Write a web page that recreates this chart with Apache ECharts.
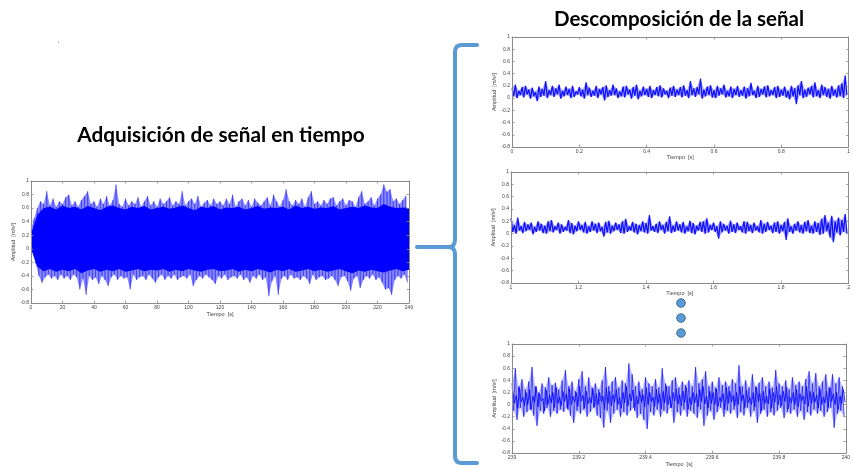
<!DOCTYPE html>
<html>
<head>
<meta charset="utf-8">
<script src="https://cdn.jsdelivr.net/npm/echarts@6/dist/echarts.min.js"></script>
<style>
  html, body { margin: 0; padding: 0; background: #ffffff; }
  #chart { width: 853px; height: 468px; }
</style>
</head>
<body>
<div id="chart"></div>
<script>
// ---- Full record: 0–240 s, local maxima every 2 s and minima in between ----
const mainStart = 0, mainStep = 2;
const mainPeaks = [
  0.28,0.45,0.60,0.70,0.66,0.85,0.64,0.74,0.62,0.70,0.66,0.76,0.80,0.64,0.70,0.62,0.72,0.78,0.85,0.66,
  0.70,0.62,0.74,0.66,0.78,0.64,0.72,0.95,0.66,0.62,0.74,0.64,0.70,0.66,0.76,0.62,0.70,0.78,0.64,0.70,
  0.62,0.74,0.66,0.70,0.76,0.64,0.70,0.66,0.85,0.64,0.70,0.74,0.66,0.78,0.62,0.68,0.72,0.64,0.74,0.66,
  0.70,0.64,0.74,0.66,0.80,0.62,0.70,0.74,0.64,0.72,0.62,0.74,0.68,0.64,0.70,0.76,0.64,0.80,0.70,0.62,
  0.72,0.88,0.70,0.64,0.72,0.66,0.74,0.62,0.76,0.85,0.66,0.70,0.64,0.72,0.66,0.74,0.76,0.64,0.70,0.74,
  0.64,0.72,0.70,0.62,0.76,0.85,0.66,0.70,0.76,0.64,0.74,0.80,0.95,0.84,0.88,0.70,0.74,0.66,0.72,0.78
];
const mainTroughs = [
  -0.05,-0.22,-0.40,-0.50,-0.42,-0.38,-0.44,-0.40,-0.46,-0.38,-0.44,-0.40,-0.46,-0.38,-0.42,-0.60,-0.44,-0.68,-0.40,-0.46,
  -0.42,-0.52,-0.40,-0.46,-0.55,-0.42,-0.38,-0.46,-0.40,-0.44,-0.42,-0.60,-0.38,-0.46,-0.42,-0.40,-0.46,-0.38,-0.44,-0.50,
  -0.42,-0.38,-0.46,-0.40,-0.44,-0.38,-0.46,-0.42,-0.40,-0.44,-0.38,-0.55,-0.46,-0.40,-0.44,-0.38,-0.42,-0.46,-0.52,-0.40,
  -0.44,-0.38,-0.46,-0.42,-0.40,-0.44,-0.38,-0.46,-0.42,-0.50,-0.40,-0.44,-0.38,-0.46,-0.42,-0.70,-0.48,-0.40,-0.68,-0.44,
  -0.40,-0.46,-0.38,-0.44,-0.42,-0.46,-0.40,-0.44,-0.52,-0.38,-0.46,-0.42,-0.40,-0.46,-0.44,-0.40,-0.46,-0.55,-0.42,-0.40,
  -0.48,-0.62,-0.44,-0.40,-0.58,-0.46,-0.40,-0.44,-0.38,-0.46,-0.42,-0.50,-0.60,-0.58,-0.68,-0.46,-0.40,-0.44,-0.38,-0.50
];
// solid body of the record, upper and lower edge every 4 s
const mainCoreStart = 0, mainCoreStep = 4;
const mainCoreHigh = [
  0.22,0.50,0.60,0.62,0.58,0.64,0.60,0.62,0.58,0.63,0.60,0.57,0.62,0.64,0.60,0.58,0.62,0.60,0.63,0.58,
  0.60,0.62,0.59,0.61,0.64,0.60,0.57,0.62,0.60,0.63,0.58,0.61,0.60,0.62,0.58,0.60,0.63,0.59,0.61,0.60,
  0.62,0.58,0.64,0.60,0.62,0.59,0.61,0.60,0.63,0.58,0.60,0.62,0.60,0.64,0.61,0.60,0.66,0.62,0.60,0.61,0.60
];
const mainCoreLow = [
  0.00,-0.26,-0.33,-0.30,-0.34,-0.31,-0.33,-0.30,-0.36,-0.32,-0.30,-0.34,-0.31,-0.33,-0.30,-0.34,-0.32,-0.30,-0.33,-0.31,
  -0.32,-0.30,-0.34,-0.31,-0.33,-0.30,-0.32,-0.34,-0.31,-0.30,-0.33,-0.32,-0.30,-0.34,-0.31,-0.33,-0.30,-0.32,-0.35,-0.31,
  -0.33,-0.30,-0.34,-0.32,-0.30,-0.33,-0.31,-0.34,-0.32,-0.30,-0.33,-0.36,-0.32,-0.34,-0.31,-0.33,-0.35,-0.32,-0.30,-0.33,-0.31
];

// ---- Window 0–1 s ----
const win1Start = 0, winStep = 0.01;
const win1Peaks = [
  0.16,0.22,0.12,0.18,0.20,0.14,0.17,0.10,0.19,0.15, 0.28,0.13,0.20,0.16,0.22,0.12,0.19,0.15,0.20,0.11,
  0.18,0.14,0.26,0.17,0.12,0.20,0.15,0.18,0.21,0.13, 0.22,0.16,0.11,0.19,0.20,0.14,0.18,0.22,0.12,0.19,
  0.15,0.20,0.13,0.18,0.21,0.16,0.12,0.17,0.20,0.14, 0.18,0.21,0.13,0.28,0.16,0.18,0.32,0.14,0.19,0.21,
  0.13,0.20,0.16,0.22,0.12,0.19,0.15,0.20,0.13,0.19, 0.16,0.25,0.12,0.20,0.15,0.19,0.21,0.13,0.18,0.20,
  0.14,0.19,0.12,0.20,0.16,0.21,0.28,0.14,0.17,0.20, 0.26,0.13,0.22,0.18,0.15,0.20,0.14,0.21,0.24,0.37
];
const win1Troughs = [
  0.03,0.00,0.05,0.01,0.06,-0.01,0.03,-0.05,0.02,0.04, 0.00,0.05,0.02,0.06,-0.01,0.03,0.05,0.00,0.02,0.06,
  0.03,-0.01,0.05,0.02,0.04,0.00,0.06,-0.04,0.02,0.04, 0.05,0.00,0.03,0.01,0.06,-0.01,0.04,-0.02,0.03,0.05,
  0.02,0.00,0.05,0.03,0.01,0.06,0.00,0.04,0.02,0.05, 0.01,0.04,0.00,0.05,0.02,0.06,-0.01,0.03,0.05,0.01,
  0.00,0.04,0.06,0.01,0.03,0.00,0.05,0.02,0.04,-0.01, 0.03,0.05,0.00,0.02,0.06,0.01,0.03,0.05,0.00,0.02,
  0.04,0.01,-0.02,0.03,-0.10,0.05,0.00,0.02,0.06,0.01, 0.03,0.00,0.05,0.02,-0.01,0.04,0.01,0.03,0.00,0.05
];

// ---- Window 1–2 s ----
const win2Start = 1;
const win2Peaks = [
  0.25,0.14,0.26,0.12,0.19,0.15,0.18,0.11,0.20,0.16, 0.13,0.20,0.22,0.12,0.18,0.15,0.11,0.22,0.17,0.13,
  0.20,0.14,0.19,0.12,0.20,0.16,0.18,0.11,0.19,0.21, 0.13,0.18,0.15,0.20,0.24,0.12,0.19,0.16,0.14,0.20,
  0.17,0.30,0.12,0.16,0.20,0.14,0.19,0.28,0.13,0.20, 0.15,0.19,0.12,0.21,0.17,0.13,0.19,0.20,0.25,0.14,
  0.18,0.12,0.20,0.16,0.13,0.21,0.15,0.18,0.12,0.20, 0.19,0.14,0.18,0.12,0.22,0.16,0.19,0.13,0.18,0.20,
  0.14,0.19,0.25,0.12,0.16,0.20,0.14,0.19,0.22,0.13, 0.20,0.17,0.24,0.30,0.18,0.29,0.20,0.26,0.22,0.32
];
const win2Troughs = [
  0.03,0.00,0.05,0.01,0.04,0.06,-0.01,0.03,0.05,0.01, 0.00,0.04,0.02,0.06,0.00,0.03,0.05,0.01,-0.01,0.04,
  0.06,0.02,0.00,0.03,0.05,0.01,0.04,-0.05,0.02,0.00, 0.04,0.06,0.01,0.00,0.03,0.05,0.02,-0.01,0.04,0.02,
  0.00,0.05,0.03,0.01,0.06,0.00,0.04,0.01,0.03,0.05, 0.02,0.00,0.04,0.01,-0.01,0.05,0.03,0.00,0.02,0.06,
  0.03,-0.08,0.02,0.05,0.00,0.03,0.01,0.06,0.02,0.00, 0.04,0.01,0.05,0.02,0.00,0.03,0.06,0.01,0.03,0.00,
  0.04,-0.10,0.03,0.00,0.05,0.02,0.00,0.04,0.01,0.00, 0.03,-0.02,0.00,0.04,-0.06,-0.14,0.02,-0.03,0.03,0.00
];

// ---- Window 239–240 s: large swings plus the smaller ripple riding between them ----
const win3Start = 239;
const win3Peaks = [
  0.35,0.60,0.30,0.42,0.25,0.38,0.62,0.30,0.20,0.35, 0.28,0.45,0.32,0.36,0.25,0.40,0.57,0.30,0.38,0.22,
  0.42,0.55,0.30,0.45,0.28,0.35,0.25,0.40,0.62,0.30, 0.38,0.45,0.28,0.40,0.35,0.68,0.50,0.30,0.38,0.25,
  0.45,0.35,0.30,0.42,0.28,0.60,0.35,0.30,0.40,0.45, 0.28,0.38,0.32,0.40,0.30,0.62,0.35,0.42,0.55,0.30,
  0.38,0.28,0.45,0.32,0.38,0.30,0.42,0.35,0.65,0.30, 0.40,0.28,0.50,0.30,0.36,0.45,0.30,0.38,0.28,0.57,
  0.35,0.30,0.40,0.25,0.45,0.32,0.38,0.30,0.42,0.55, 0.35,0.52,0.30,0.38,0.50,0.28,0.50,0.35,0.45,0.30
];
const win3Troughs = [
  -0.10,-0.25,-0.05,-0.20,-0.12,-0.08,-0.18,-0.35,-0.10,-0.15, -0.05,-0.20,-0.10,-0.15,-0.08,-0.12,-0.05,-0.18,-0.30,-0.10,
  -0.15,-0.08,-0.20,-0.12,-0.05,-0.18,-0.22,-0.38,-0.10,-0.30, -0.15,-0.08,-0.20,-0.12,-0.18,-0.10,-0.05,-0.22,-0.15,-0.25,
  -0.40,-0.12,-0.18,-0.08,-0.20,-0.10,-0.15,-0.05,-0.30,-0.12, -0.18,-0.08,-0.20,-0.10,-0.15,-0.22,-0.08,-0.35,-0.18,-0.10,
  -0.25,-0.12,-0.05,-0.20,-0.10,-0.15,-0.08,-0.22,-0.12,-0.18, -0.05,-0.20,-0.10,-0.30,-0.15,-0.08,-0.20,-0.12,-0.18,-0.10,
  -0.05,-0.22,-0.12,-0.15,-0.08,-0.20,-0.10,-0.25,-0.12,-0.18, -0.08,-0.15,-0.10,-0.20,-0.12,-0.05,-0.38,-0.15,-0.10,-0.20
];
const win3RipplePeaks = [
  0.22,0.15,0.28,0.12,0.20,0.25,0.14,0.30,0.18,0.10, 0.24,0.16,0.20,0.28,0.12,0.22,0.18,0.26,0.14,0.20,
  0.30,0.15,0.22,0.12,0.26,0.18,0.20,0.14,0.28,0.22, 0.16,0.25,0.12,0.20,0.30,0.18,0.24,0.14,0.22,0.16,
  0.28,0.20,0.12,0.25,0.18,0.22,0.30,0.14,0.20,0.26, 0.16,0.22,0.28,0.12,0.20,0.18,0.25,0.30,0.14,0.22,
  0.20,0.26,0.12,0.18,0.28,0.22,0.15,0.20,0.30,0.16, 0.24,0.12,0.20,0.28,0.18,0.22,0.14,0.26,0.20,0.30,
  0.16,0.22,0.28,0.12,0.20,0.25,0.18,0.14,0.30,0.22, 0.20,0.16,0.26,0.12,0.22,0.28,0.18,0.20,0.14,0.25
];
const win3RippleTroughs = [
  0.02,-0.06,0.05,-0.02,0.00,-0.08,0.04,-0.04,0.06,-0.10, 0.00,0.03,-0.05,0.02,-0.02,0.05,-0.08,0.00,0.04,-0.03,
  0.06,-0.06,0.01,0.03,-0.04,0.00,0.05,-0.08,0.02,-0.02, 0.04,0.00,-0.06,0.03,-0.02,0.06,-0.10,0.01,0.04,-0.04,
  0.00,0.05,-0.03,0.02,-0.07,0.03,0.00,-0.05,0.06,0.01, -0.02,0.04,-0.08,0.00,0.03,-0.04,0.05,0.01,-0.06,0.02,
  0.00,-0.03,0.05,-0.08,0.02,0.04,-0.02,0.00,0.06,-0.05, 0.03,0.00,-0.04,0.05,-0.10,0.02,0.01,-0.06,0.04,0.00,
  -0.02,0.05,-0.07,0.03,0.00,-0.04,0.06,0.01,-0.03,0.02, 0.04,-0.06,0.00,0.03,-0.05,0.05,0.00,-0.08,0.02,0.04
];

// ---- Axis ticks ----
const ampTicks = { min: -0.8, max: 1, interval: 0.2 };
const timeAxes = [
  { min: 0,   max: 240, interval: 20 },
  { min: 0,   max: 1,   interval: 0.2 },
  { min: 1,   max: 2,   interval: 0.2 },
  { min: 239, max: 240, interval: 0.2 }
];
const ampName = 'Amplitud  [m/s\u00B2]';
const timeName = 'Tiempo  [s]';

// ---- helpers ----
// maxima sit at start + i*step, minima half a step later
const atPeaks = (start, step, ys) => ys.map((y, i) => [start + i * step, y]);
const atTroughs = (start, step, ys) => ys.map((y, i) => [start + (i + 0.5) * step, y]);
// one trace that alternates between the maxima and minima
function trace(start, step, peaks, troughs) {
  const pts = [];
  const p = atPeaks(start, step, peaks), t = atTroughs(start, step, troughs);
  for (let i = 0; i < p.length; i++) { pts.push(p[i]); if (t[i]) pts.push(t[i]); }
  return pts;
}

const AX = '#8a8a8a';
const LBL = '#444';
const FONT = '"Liberation Sans", Arial, sans-serif';
const BLUE = '#0000ff';

const grids = [
  { left: 31,  top: 181, width: 378,   height: 122 },
  { left: 512, top: 37,  width: 339,   height: 110 },
  { left: 511, top: 172, width: 342.5, height: 111 },
  { left: 512, top: 344, width: 346,   height: 111 }
];
const xNameGaps = [8, 7, 6, 7];
const yNameGaps = [13, 12, 12, 12];

const xAxes = [], yAxes = [];
grids.forEach((g, gi) => {
  const t = timeAxes[gi];
  const tick = { show: true, inside: true, length: 2.5, lineStyle: { color: AX, width: 0.8 } };
  const line = { show: true, onZero: false, lineStyle: { color: AX, width: 1 } };
  xAxes.push({
    gridIndex: gi, type: 'value', min: t.min, max: t.max, interval: t.interval, position: 'bottom', z: 10,
    axisLine: line, axisTick: tick,
    axisLabel: { fontSize: 5, color: LBL, margin: 2, fontFamily: FONT },
    splitLine: { show: false },
    name: timeName, nameLocation: 'middle', nameGap: xNameGaps[gi],
    nameTextStyle: { fontSize: 5.5, color: LBL, fontFamily: FONT }
  });
  xAxes.push({
    gridIndex: gi, type: 'value', min: t.min, max: t.max, interval: t.interval, position: 'top', z: 10,
    axisLine: line, axisTick: tick, axisLabel: { show: false }, splitLine: { show: false }
  });
  yAxes.push({
    gridIndex: gi, type: 'value', min: ampTicks.min, max: ampTicks.max, interval: ampTicks.interval, position: 'left', z: 10,
    axisLine: line, axisTick: tick,
    axisLabel: { fontSize: 5, color: LBL, margin: 2, fontFamily: FONT },
    splitLine: { show: false },
    name: ampName, nameLocation: 'middle', nameRotate: 90, nameGap: yNameGaps[gi],
    nameTextStyle: { fontSize: 5.5, color: LBL, fontFamily: FONT }
  });
  yAxes.push({
    gridIndex: gi, type: 'value', min: ampTicks.min, max: ampTicks.max, interval: ampTicks.interval, position: 'right', z: 10,
    axisLine: line, axisTick: tick, axisLabel: { show: false }, splitLine: { show: false }
  });
});

// filled band between an upper and a lower edge, placed through the axes of grid gi
function bandSeries(gi, upper, lower, color, z) {
  return {
    type: 'custom', xAxisIndex: gi * 2, yAxisIndex: gi * 2, z, silent: true,
    data: [[upper[0][0], upper[0][1]]],
    renderItem: (params, api) => ({
      type: 'polygon',
      shape: { points: upper.map(p => api.coord(p)).concat(lower.slice().reverse().map(p => api.coord(p))) },
      style: { fill: color }
    })
  };
}
function traceSeries(gi, data, opacity, width, z) {
  return {
    type: 'line', xAxisIndex: gi * 2, yAxisIndex: gi * 2, data,
    showSymbol: false, silent: true, sampling: null,
    lineStyle: { color: BLUE, width, opacity }, z
  };
}

const series = [
  // full record: light spread of the extremes, solid body, thin trace
  bandSeries(0, atPeaks(mainStart, mainStep, mainPeaks), atTroughs(mainStart, mainStep, mainTroughs), '#8c8cff', 2),
  bandSeries(0, atPeaks(mainCoreStart, mainCoreStep, mainCoreHigh), atPeaks(mainCoreStart, mainCoreStep, mainCoreLow), BLUE, 3),
  traceSeries(0, trace(mainStart, mainStep, mainPeaks, mainTroughs), 0.35, 1, 4),
  // 0–1 s
  bandSeries(1, atPeaks(win1Start, winStep, win1Peaks), atTroughs(win1Start, winStep, win1Troughs), '#a6a6ff', 2),
  traceSeries(1, trace(win1Start, winStep, win1Peaks, win1Troughs), 0.9, 1.25, 4),
  // 1–2 s
  bandSeries(2, atPeaks(win2Start, winStep, win2Peaks), atTroughs(win2Start, winStep, win2Troughs), '#a6a6ff', 2),
  traceSeries(2, trace(win2Start, winStep, win2Peaks, win2Troughs), 0.9, 1.25, 4),
  // 239–240 s
  bandSeries(3, atPeaks(win3Start, winStep, win3Peaks), atTroughs(win3Start, winStep, win3Troughs), '#bcbcff', 2),
  traceSeries(3, trace(win3Start, winStep, win3Peaks, win3Troughs), 0.6, 1, 4),
  traceSeries(3, trace(win3Start + winStep / 4, winStep, win3RipplePeaks, win3RippleTroughs), 0.8, 1, 4)
];

const BRACE = '#5b9bd5';
const braceStyle = { stroke: BRACE, lineWidth: 4, fill: null, lineCap: 'round' };
const seg = (x1, y1, x2, y2) => ({ type: 'line', shape: { x1, y1, x2, y2 }, style: braceStyle });
const curve = (x1, y1, cpx1, cpy1, x2, y2) =>
  ({ type: 'bezierCurve', shape: { x1, y1, cpx1, cpy1, x2, y2 }, style: braceStyle });

const graphic = [
  {
    type: 'text', x: 221, y: 135,
    style: { text: 'Adquisición de señal en tiempo', fill: '#000', font: 'bold 20.8px Lato, "Open Sans", sans-serif',
             textAlign: 'center', textVerticalAlign: 'middle' }
  },
  {
    type: 'text', x: 679, y: 19.5,
    style: { text: 'Descomposición de la señal', fill: '#000', font: 'bold 20.5px Lato, "Open Sans", sans-serif',
             textAlign: 'center', textVerticalAlign: 'middle' }
  },
  // connector and curly brace
  seg(417, 247, 450, 247),
  seg(477, 45, 462, 45),
  curve(462, 45, 455, 45, 455, 52),
  seg(455, 52, 455, 239),
  curve(455, 239, 455, 247, 449, 247),
  curve(449, 247, 455, 247, 455, 255),
  seg(455, 255, 455, 456),
  curve(455, 456, 455, 463, 462, 463),
  seg(462, 463, 477, 463),
  // ellipsis dots between windows
  { type: 'circle', shape: { cx: 681, cy: 303, r: 4.3 }, style: { fill: BRACE, stroke: '#41719c', lineWidth: 1 } },
  { type: 'circle', shape: { cx: 681, cy: 318, r: 4.3 }, style: { fill: BRACE, stroke: '#41719c', lineWidth: 1 } },
  { type: 'circle', shape: { cx: 681, cy: 333, r: 4.3 }, style: { fill: BRACE, stroke: '#41719c', lineWidth: 1 } },
  { type: 'circle', shape: { cx: 58.5, cy: 42, r: 0.6 }, style: { fill: '#666' } }
];

const chart = echarts.init(document.getElementById('chart'), null, { renderer: 'canvas' });
chart.setOption({
  backgroundColor: '#ffffff',
  animation: false,
  grid: grids.map(g => Object.assign({ show: true, backgroundColor: '#ffffff', borderWidth: 0, containLabel: false }, g)),
  xAxis: xAxes,
  yAxis: yAxes,
  series,
  graphic
});
</script>
</body>
</html>
